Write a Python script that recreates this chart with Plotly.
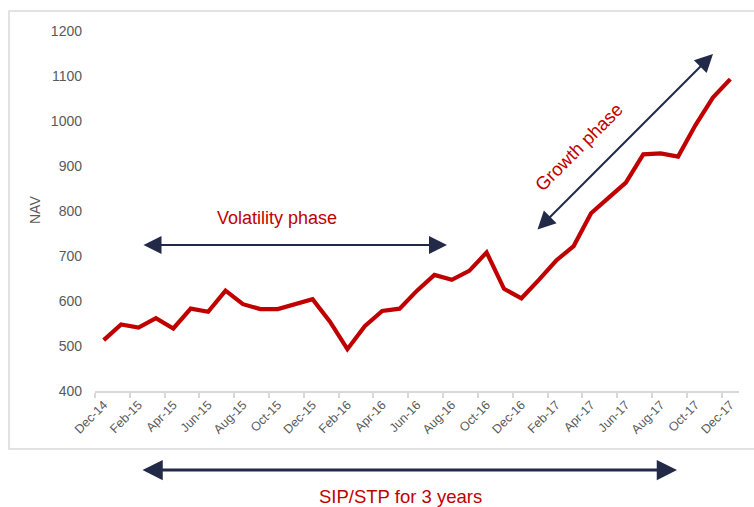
import plotly.graph_objects as go

# Monthly NAV, Dec-2014 .. Dec-2017
months = [
    "Dec-14", "Jan-15", "Feb-15", "Mar-15", "Apr-15", "May-15", "Jun-15",
    "Jul-15", "Aug-15", "Sep-15", "Oct-15", "Nov-15", "Dec-15", "Jan-16",
    "Feb-16", "Mar-16", "Apr-16", "May-16", "Jun-16", "Jul-16", "Aug-16",
    "Sep-16", "Oct-16", "Nov-16", "Dec-16", "Jan-17", "Feb-17", "Mar-17",
    "Apr-17", "May-17", "Jun-17", "Jul-17", "Aug-17", "Sep-17", "Oct-17",
    "Nov-17", "Dec-17",
]
nav = [
    513, 548, 541, 562, 539, 583, 576,
    623, 593, 582, 582, 592, 604, 554,
    493, 544, 578, 583, 623, 658, 647,
    667, 708, 627, 606, 647, 690, 722,
    795, 829, 863, 926, 928, 921, 991,
    1052, 1093,
]
y_ticks = [400, 500, 600, 700, 800, 900, 1000, 1100, 1200]

RED = "#c00000"
NAVY = "#222a47"
GREY_TEXT = "#595959"
GREY_LINE = "#d9d9d9"
FONT = "Arial, Liberation Sans, sans-serif"

W, H = 754, 507
L, R, T, B = 95, 15, 31, 116
PW, PH = W - L - R, H - T - B


def px(x):
    return (x - L) / PW


def py(y):
    return (H - B - y) / PH


fig = go.Figure(
    go.Scatter(
        x=months,
        y=nav,
        mode="lines",
        line=dict(color=RED, width=4.2),
        hoverinfo="x+y",
    )
)

# outer chart frame
fig.add_shape(
    type="rect", xref="paper", yref="paper",
    x0=px(9), x1=px(770), y0=py(449), y1=py(11),
    line=dict(color=GREY_LINE, width=1.5), fillcolor="rgba(0,0,0,0)",
    layer="below",
)


def double_arrow(x0, y0, x1, y1, width, size):
    fig.add_annotation(
        xref="paper", yref="paper", x=px(x1), y=py(y1),
        axref="pixel", ayref="pixel", ax=x0 - x1, ay=y0 - y1,
        text="", showarrow=True, arrowcolor=NAVY, arrowwidth=width,
        arrowhead=2, arrowsize=size, startarrowhead=2, startarrowsize=size,
        arrowside="end+start", standoff=0, startstandoff=0,
    )


double_arrow(142, 245, 447, 245, 2, 1.8)
double_arrow(536, 231, 713, 54, 2, 1.8)
double_arrow(141, 470, 677, 470, 3, 1.35)


def label(text, x, y, size, color, angle=0):
    fig.add_annotation(
        xref="paper", yref="paper", x=px(x), y=py(y),
        xanchor="center", yanchor="middle",
        text=text, showarrow=False, textangle=angle,
        font=dict(family=FONT, size=size, color=color),
    )


label("Volatility phase", 277, 218, 18, RED)
label("Growth phase", 578, 147, 18.5, RED, -45)
label("SIP/STP for 3 years", 400, 496.5, 18.5, RED)
label("NAV", 35, 210, 14, GREY_TEXT, -90)

fig.update_layout(
    width=W, height=H,
    margin=dict(l=L, r=R, t=T, b=B),
    paper_bgcolor="white", plot_bgcolor="white",
    showlegend=False,
    font=dict(family=FONT, color=GREY_TEXT),
    xaxis=dict(
        type="category",
        categoryorder="array", categoryarray=months,
        range=[-0.5, len(months) - 0.5],
        tickmode="linear", tick0=0, dtick=2,
        tickson="boundaries",
        ticks="outside", ticklen=5, tickcolor=GREY_LINE, tickwidth=1.5,
        showline=True, linecolor=GREY_LINE, linewidth=1.5,
        showgrid=False, zeroline=False,
        tickangle=-45,
        tickfont=dict(family=FONT, size=12.5, color=GREY_TEXT),
    ),
    yaxis=dict(
        range=[400, 1200],
        tickmode="array", tickvals=y_ticks,
        showgrid=False, zeroline=False, showline=False, ticks="",
        ticklabelstandoff=12,
        tickfont=dict(family=FONT, size=14, color=GREY_TEXT),
    ),
)

fig.write_html("out.html")
